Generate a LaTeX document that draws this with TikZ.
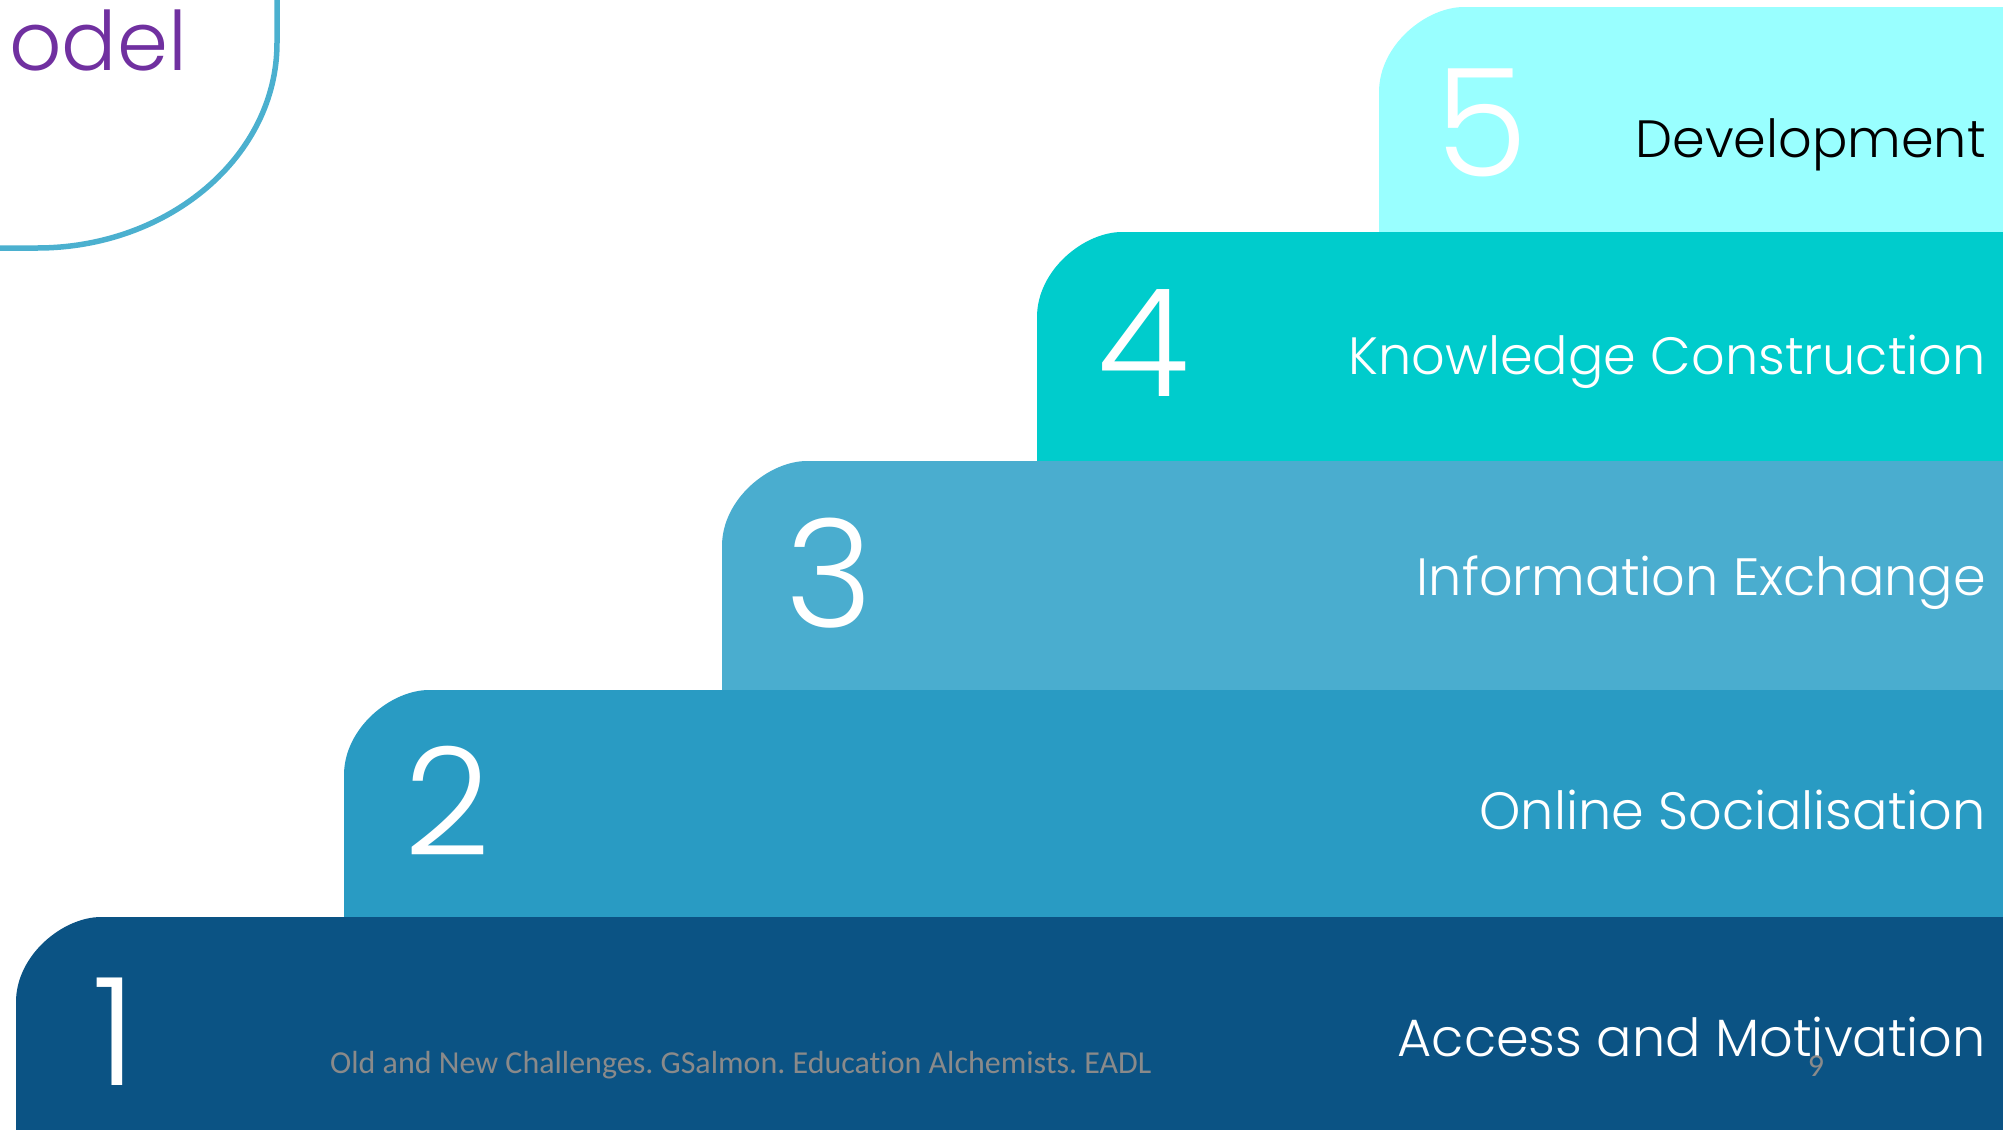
\documentclass[tikz,border=0pt]{standalone}
\usepackage{fontspec}
\setmainfont{Poppins Light}
\newfontfamily\notefont[Ligatures=NoCommon]{Carlito}
\frenchspacing
\begin{document}
\definecolor{stepfive}{HTML}{99FFFF}
\definecolor{stepfour}{HTML}{00CCCC}
\definecolor{stepthree}{HTML}{4AADCF}
\definecolor{steptwo}{HTML}{299BC3}
\definecolor{stepone}{HTML}{0B5384}
\definecolor{frameline}{HTML}{4BB0CF}
\definecolor{titlepurple}{HTML}{7030A0}
\definecolor{notegray}{HTML}{8A8A8A}
% a step: fill colour, left edge, top, bottom; only the upper-left corner is rounded
\newcommand\stepblock[4]{%
  \fill[#1] (#2,#4) -- (#2,#3+85)
    .. controls (#2,#3+38) and (#2+47,#3) .. (#2+85,#3)
    -- (2010,#3) -- (2010,#4) -- cycle;}
\begin{tikzpicture}[x=1pt,y=-1pt,
  numlabel/.style={anchor=base, text=white, font=\fontsize{150}{150}\selectfont, inner sep=0pt},
  steplabel/.style={anchor=base east, text=white, font=\fontsize{52.5}{60}\selectfont, inner sep=0pt},
  notelabel/.style={anchor=base west, text=notegray, font=\notefont\fontsize{32}{36}\selectfont, inner sep=0pt}]
\useasboundingbox (0,0) rectangle (2003,1130);

% corner of the title frame
\draw[frameline, line width=5.5pt] (-10,248) -- (37,248)
  .. controls (169,248) and (277,156) .. (277,43) -- (277,-10);
\node[anchor=base east, text=titlepurple, font=\fontsize{82}{90}\selectfont, inner sep=0pt] (title) at (187,70) {odel};

% the five steps
\stepblock{stepfive}{1379}{7}{232}
\stepblock{stepfour}{1037}{232}{461}
\stepblock{stepthree}{722}{461}{690}
\stepblock{steptwo}{344}{690}{917}
\stepblock{stepone}{16}{917}{1140}

% step numbers
\node[numlabel] (n5) at (1482,176) {5};
\node[numlabel] (n4) at (1143,396) {4};
\node[numlabel] (n3) at (829,627) {3};
\node[numlabel] (n2) at (447,855) {2};
\node[numlabel] (n1) at (114,1085) {1};

% step names
\node[steplabel, text=black] (l5) at (1986,157) {Development};
\node[steplabel] (l4) at (1986,374) {Knowledge Construction};
\node[steplabel] (l3) at (1986,595) {Information Exchange};
\node[steplabel] (l2) at (1986,829) {Online Socialisation};
\node[steplabel] (l1) at (1986,1056) {Access and Motivation};

% footer
\node[notelabel] (footer) at (330,1073) {Old and New Challenges. GSalmon. Education Alchemists. EADL};
\node[anchor=base, text=notegray, font=\notefont\fontsize{32}{36}\selectfont, inner sep=0pt] (page) at (1816,1076) {9};
\end{tikzpicture}
\end{document}
